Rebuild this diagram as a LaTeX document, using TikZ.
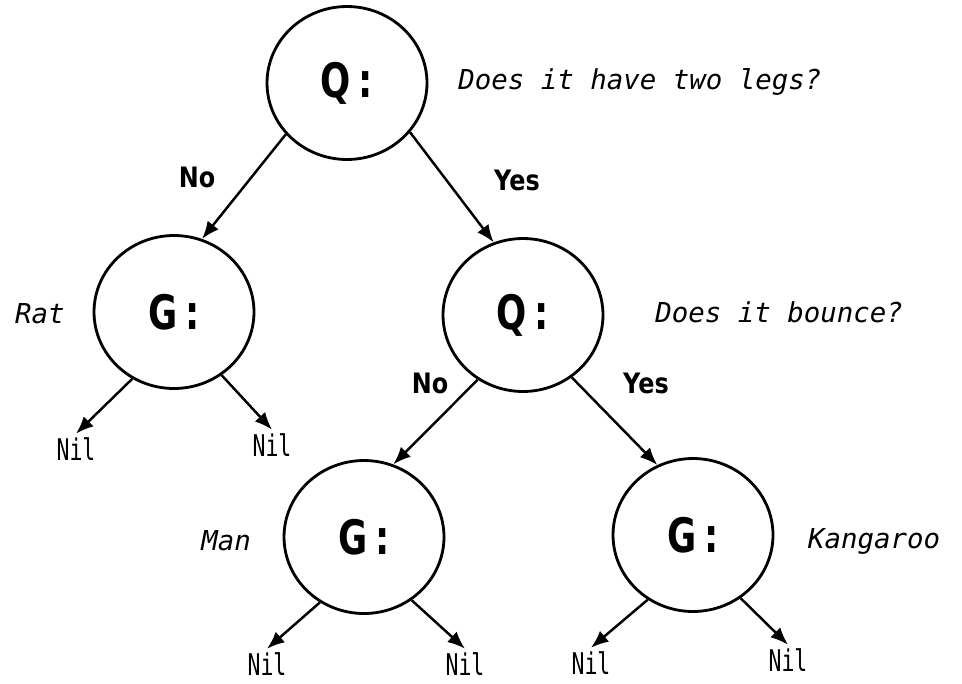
\documentclass[tikz,border=0pt]{standalone}
\usepackage{fontspec}
\setmainfont{DejaVu Sans}
\newfontfamily\glyphfont{DejaVu Sans Bold}[FakeStretch=0.75]
\newfontfamily\answerfont{DejaVu Sans}[FakeStretch=0.85]
\newfontfamily\nilfont{DejaVu Sans Mono}[FakeStretch=0.72]
\newfontfamily\guessfont{DejaVu Sans Mono}
\usetikzlibrary{positioning, shapes.geometric, arrows.meta}

\begin{document}
\begin{tikzpicture}[
    x=0.02cm, y=-0.02cm,
    treenode/.style={ellipse, draw, line width=1.6pt, minimum width=3.2cm, minimum height=3.06cm, font=\fontsize{27}{27}\selectfont\glyphfont},
    answer/.style={font=\fontsize{16}{16}\selectfont\answerfont\bfseries},
    guess/.style={font=\fontsize{15.6}{16}\selectfont\guessfont\itshape},
    nil/.style={inner sep=2pt, font=\fontsize{17}{17}\selectfont\nilfont},
    arrow/.style={-{Latex[length=10pt, width=8pt]}, line width=1.4pt}
]
\useasboundingbox (0,0) rectangle (962,683);

% Nodes
\node (root) [treenode] at (347,83) {Q\,:};
\node (rat) [treenode] at (174,312) {G\,:};
\node (bounce) [treenode] at (523,315) {Q\,:};
\node (man) [treenode] at (364,537) {G\,:};
\node (kanga) [treenode] at (693,535) {G\,:};

% Questions and guesses
\node (q1) [guess] at (640,82) {Does it have two legs?};
\node (q2) [guess] at (779,312) {Does it bounce?};
\node (g1) [guess] at (40,314) {Rat};
\node (g2) [guess] at (226,541) {Man};
\node (g3) [guess] at (874,541) {Kangaroo};

% Answers
\node (no1) [answer] at (197,177) {No};
\node (yes1) [answer] at (517,180) {Yes};
\node (no2) [answer] at (430,383) {No};
\node (yes2) [answer] at (646,383) {Yes};

% Leaves
\node (nil1) [nil] at (76,449) {Nil};
\node (nil2) [nil] at (272,445) {Nil};
\node (nil3) [nil] at (267,664) {Nil};
\node (nil4) [nil] at (465,664) {Nil};
\node (nil5) [nil] at (591,663) {Nil};
\node (nil6) [nil] at (788,660) {Nil};

% Arrows
\draw [arrow] (root.-140) -- (rat.69);
\draw [arrow] (root.-38) -- (bounce.112);
\draw [arrow] (bounce.-125) -- (man.68);
\draw [arrow] (bounce.-52) -- (kanga.117);
\draw [arrow] (rat.-122) -- (nil1.north);
\draw [arrow] (rat.-53) -- (nil2.north);
\draw [arrow] (man.-124) -- (nil3.north);
\draw [arrow] (man.-53) -- (nil4.north);
\draw [arrow] (kanga.-125) -- (nil5.north);
\draw [arrow] (kanga.-53) -- (nil6.north);

\end{tikzpicture}
\end{document}
